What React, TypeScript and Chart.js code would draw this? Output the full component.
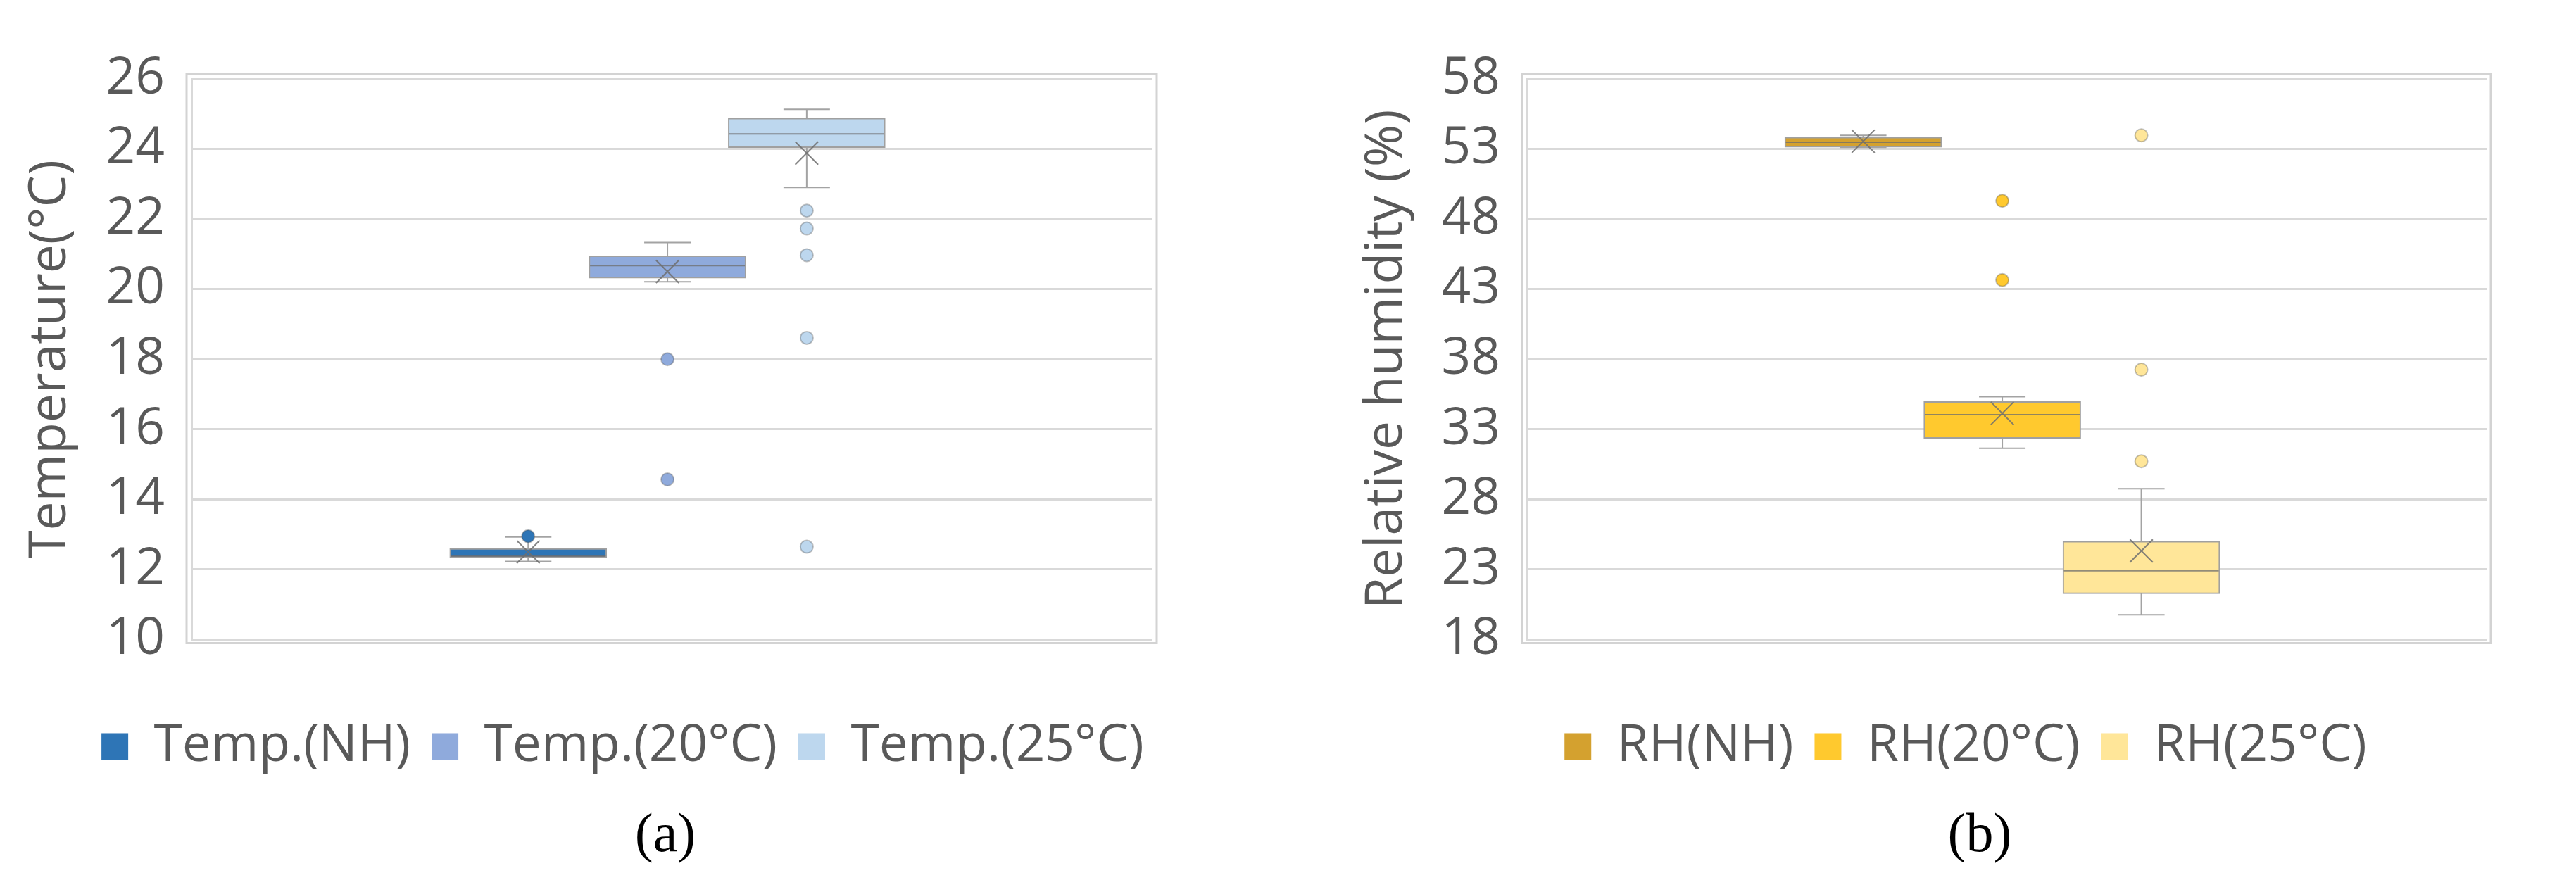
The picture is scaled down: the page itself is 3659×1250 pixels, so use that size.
import React, { useEffect, useRef } from 'react';
import { Chart, registerables } from 'chart.js';

Chart.register(...registerables);

// ---------- Data: (a) Temperature ----------
const tempSeries = ['Temp.(NH)', 'Temp.(20°C)', 'Temp.(25°C)'];
const tempMin = [12.23, 20.21, 22.9];
const tempQ1 = [12.34, 20.31, 24.04];
const tempMedian = [12.38, 20.67, 24.43];
const tempQ3 = [12.6, 20.95, 24.88];
const tempMax = [12.93, 21.33, 25.13];
const tempMean = [12.5, 20.5, 23.88];
const tempOutliers = [[12.95], [18.0, 14.57], [22.24, 21.73, 20.97, 18.61, 12.65]];
const tempTicks = [10, 12, 14, 16, 18, 20, 22, 24, 26];
const tempColors = ['#2E75B6', '#8FAADC', '#BDD7EE'];

// ---------- Data: (b) Relative humidity ----------
const rhSeries = ['RH(NH)', 'RH(20°C)', 'RH(25°C)'];
const rhMin = [53.12, 31.65, 19.77];
const rhQ1 = [53.12, 32.35, 21.27];
const rhMedian = [53.48, 34.04, 22.91];
const rhQ3 = [53.84, 34.98, 25.02];
const rhMax = [53.97, 35.32, 28.76];
const rhMean = [53.55, 34.14, 24.33];
const rhOutliers = [[], [49.3, 43.65], [53.97, 37.26, 30.72]];
const rhTicks = [18, 23, 28, 33, 38, 43, 48, 53, 58];
const rhColors = ['#D4A12F', '#FFC92E', '#FFE699'];

// series slots on the (hidden) x axis
const seriesSlot = [1, 2, 3];

const FONT = "'Open Sans', 'Noto Sans', sans-serif";
const TEXT = '#595959';
const GRID = '#d9d9d9';
const WHISKER = '#a3a3a3';

const framePlugin = {
  id: 'plotFrame',
  beforeDatasetsDraw(chart: any) {
    const { ctx, chartArea: a } = chart;
    ctx.save();
    ctx.strokeStyle = '#d3d3d3';
    ctx.lineWidth = 3;
    ctx.strokeRect(a.left - 7, a.top - 7, a.right - a.left + 13, a.bottom - a.top + 12);
    ctx.restore();
  },
};

type Spec = {
  names: string[];
  mins: number[];
  q1: number[];
  med: number[];
  q3: number[];
  maxs: number[];
  means: number[];
  outliers: number[][];
  ticks: number[];
  colors: string[];
  title: string;
  padLeft: number;
  yWidth: number;
  rightWidth: number;
  titlePad: number;
};

function buildConfig(s: Spec): any {
  const datasets: any[] = [];
  s.names.forEach((name, i) => {
    const x = seriesSlot[i];
    datasets.push({
      type: 'line',
      label: name + ' whisker',
      data: [
        { x, y: s.mins[i] },
        { x, y: s.maxs[i] },
      ],
      borderColor: WHISKER,
      borderWidth: 2,
      pointRadius: 0,
      order: 10,
    });
    datasets.push({
      type: 'bar',
      label: name,
      data: [{ x, y: [s.q1[i], s.q3[i]] }],
      backgroundColor: s.colors[i],
      borderColor: '#a0a0a0',
      borderWidth: 2,
      borderSkipped: false,
      grouped: false,
      barThickness: 223,
      order: 5,
    });
    datasets.push({
      type: 'scatter',
      label: name + ' caps',
      data: [
        { x, y: s.mins[i] },
        { x, y: s.maxs[i] },
      ],
      pointStyle: 'line',
      pointRadius: 33,
      pointBorderColor: WHISKER,
      pointBorderWidth: 2,
      order: 2,
    });
    datasets.push({
      type: 'scatter',
      label: name + ' median',
      data: [{ x, y: s.med[i] }],
      pointStyle: 'line',
      pointRadius: 110,
      pointBorderColor: 'rgba(110,110,110,0.75)',
      pointBorderWidth: 2,
      order: 2,
    });
    datasets.push({
      type: 'scatter',
      label: name + ' mean',
      data: [{ x, y: s.means[i] }],
      pointStyle: 'crossRot',
      pointRadius: 23,
      pointBorderColor: 'rgba(110,110,110,0.85)',
      pointBorderWidth: 2,
      order: 1,
    });
    datasets.push({
      type: 'scatter',
      label: name + ' outliers',
      data: s.outliers[i].map((v) => ({ x, y: v })),
      pointStyle: 'circle',
      pointRadius: 9,
      pointBackgroundColor: s.colors[i],
      pointBorderColor: 'rgba(80,80,80,0.35)',
      pointBorderWidth: 2,
      order: 1,
    });
  });

  const yMin = s.ticks[0];
  const yMax = s.ticks[s.ticks.length - 1];
  const step = s.ticks[1] - s.ticks[0];

  return {
    type: 'bar',
    data: { datasets },
    plugins: [framePlugin],
    options: {
      responsive: false,
      animation: false,
      events: [],
      layout: { padding: { top: 67, left: s.padLeft, right: 0, bottom: 0 } },
      scales: {
        x: {
          type: 'linear',
          min: -0.925,
          max: 4.99,
          display: true,
          grid: { display: false },
          border: { display: false },
          ticks: { display: false },
          afterFit: (sc: any) => {
            sc.height = 85.5;
          },
        },
        y: {
          type: 'linear',
          position: 'left',
          min: yMin,
          max: yMax,
          ticks: {
            stepSize: step,
            padding: 38,
            color: TEXT,
            font: { family: FONT, size: 73 },
          },
          grid: { color: GRID, lineWidth: 3, drawTicks: false },
          border: { display: true, color: GRID, width: 3 },
          title: {
            display: true,
            text: s.title,
            color: TEXT,
            font: { family: FONT, size: 73, lineHeight: 0.8 },
            padding: { top: s.titlePad, bottom: 0 },
          },
          afterFit: (sc: any) => {
            sc.width = s.yWidth;
          },
        },
        yR: {
          type: 'linear',
          position: 'right',
          display: true,
          grid: { display: false },
          border: { display: false },
          ticks: { display: false },
          afterFit: (sc: any) => {
            sc.width = s.rightWidth;
          },
        },
      },
      plugins: {
        tooltip: { enabled: false },
        title: { display: false },
        legend: {
          display: true,
          position: 'bottom',
          align: 'center',
          labels: {
            boxWidth: 38,
            boxHeight: 38,
            padding: 30,
            color: TEXT,
            font: { family: FONT, size: 73 },
            generateLabels: () =>
              s.names.map((t, i) => ({
                text: t,
                fillStyle: s.colors[i],
                strokeStyle: s.colors[i],
                lineWidth: 0,
                hidden: false,
                fontColor: TEXT,
                datasetIndex: i * 6 + 1,
              })),
          },
        },
      },
    },
  };
}

const specA: Spec = {
  names: tempSeries,
  mins: tempMin,
  q1: tempQ1,
  med: tempMedian,
  q3: tempQ3,
  maxs: tempMax,
  means: tempMean,
  outliers: tempOutliers,
  ticks: tempTicks,
  colors: tempColors,
  title: 'Temperature(°C)',
  padLeft: 20,
  yWidth: 252,
  rightWidth: 25,
  titlePad: 22.8,
};

const specB: Spec = {
  names: rhSeries,
  mins: rhMin,
  q1: rhQ1,
  med: rhMedian,
  q3: rhQ3,
  maxs: rhMax,
  means: rhMean,
  outliers: rhOutliers,
  ticks: rhTicks,
  colors: rhColors,
  title: 'Relative humidity (%)',
  padLeft: 90,
  yWidth: 229,
  rightWidth: 22,
  titlePad: 0.8,
};

function BoxChart({ spec, left, width, height }: { spec: Spec; left: number; width: number; height: number }) {
  const ref = useRef<HTMLCanvasElement | null>(null);
  useEffect(() => {
    if (!ref.current) return;
    const chart = new Chart(ref.current, buildConfig(spec));
    return () => chart.destroy();
  }, [spec]);
  return (
    <canvas
      ref={ref}
      width={width}
      height={height}
      style={{ position: 'absolute', left, top: 0, width, height }}
    />
  );
}

const captionStyle = (cx: number): React.CSSProperties => ({
  position: 'absolute',
  left: cx - 100,
  width: 200,
  top: 1143,
  height: 80,
  lineHeight: '80px',
  textAlign: 'center',
  fontFamily: "'Liberation Serif', 'DejaVu Serif', serif",
  fontSize: 78,
  color: '#000',
});

export default function App() {
  return (
    <div
      style={{
        position: 'absolute',
        left: 0,
        top: 0,
        width: 3659,
        height: 1250,
        background: '#fff',
        overflow: 'hidden',
      }}
    >
      <BoxChart spec={specA} left={0} width={1749} height={1107} />
      <BoxChart spec={specB} left={1850} width={1794} height={1107} />
      <div style={captionStyle(945)}>(a)</div>
      <div style={captionStyle(2812)}>(b)</div>
    </div>
  );
}
